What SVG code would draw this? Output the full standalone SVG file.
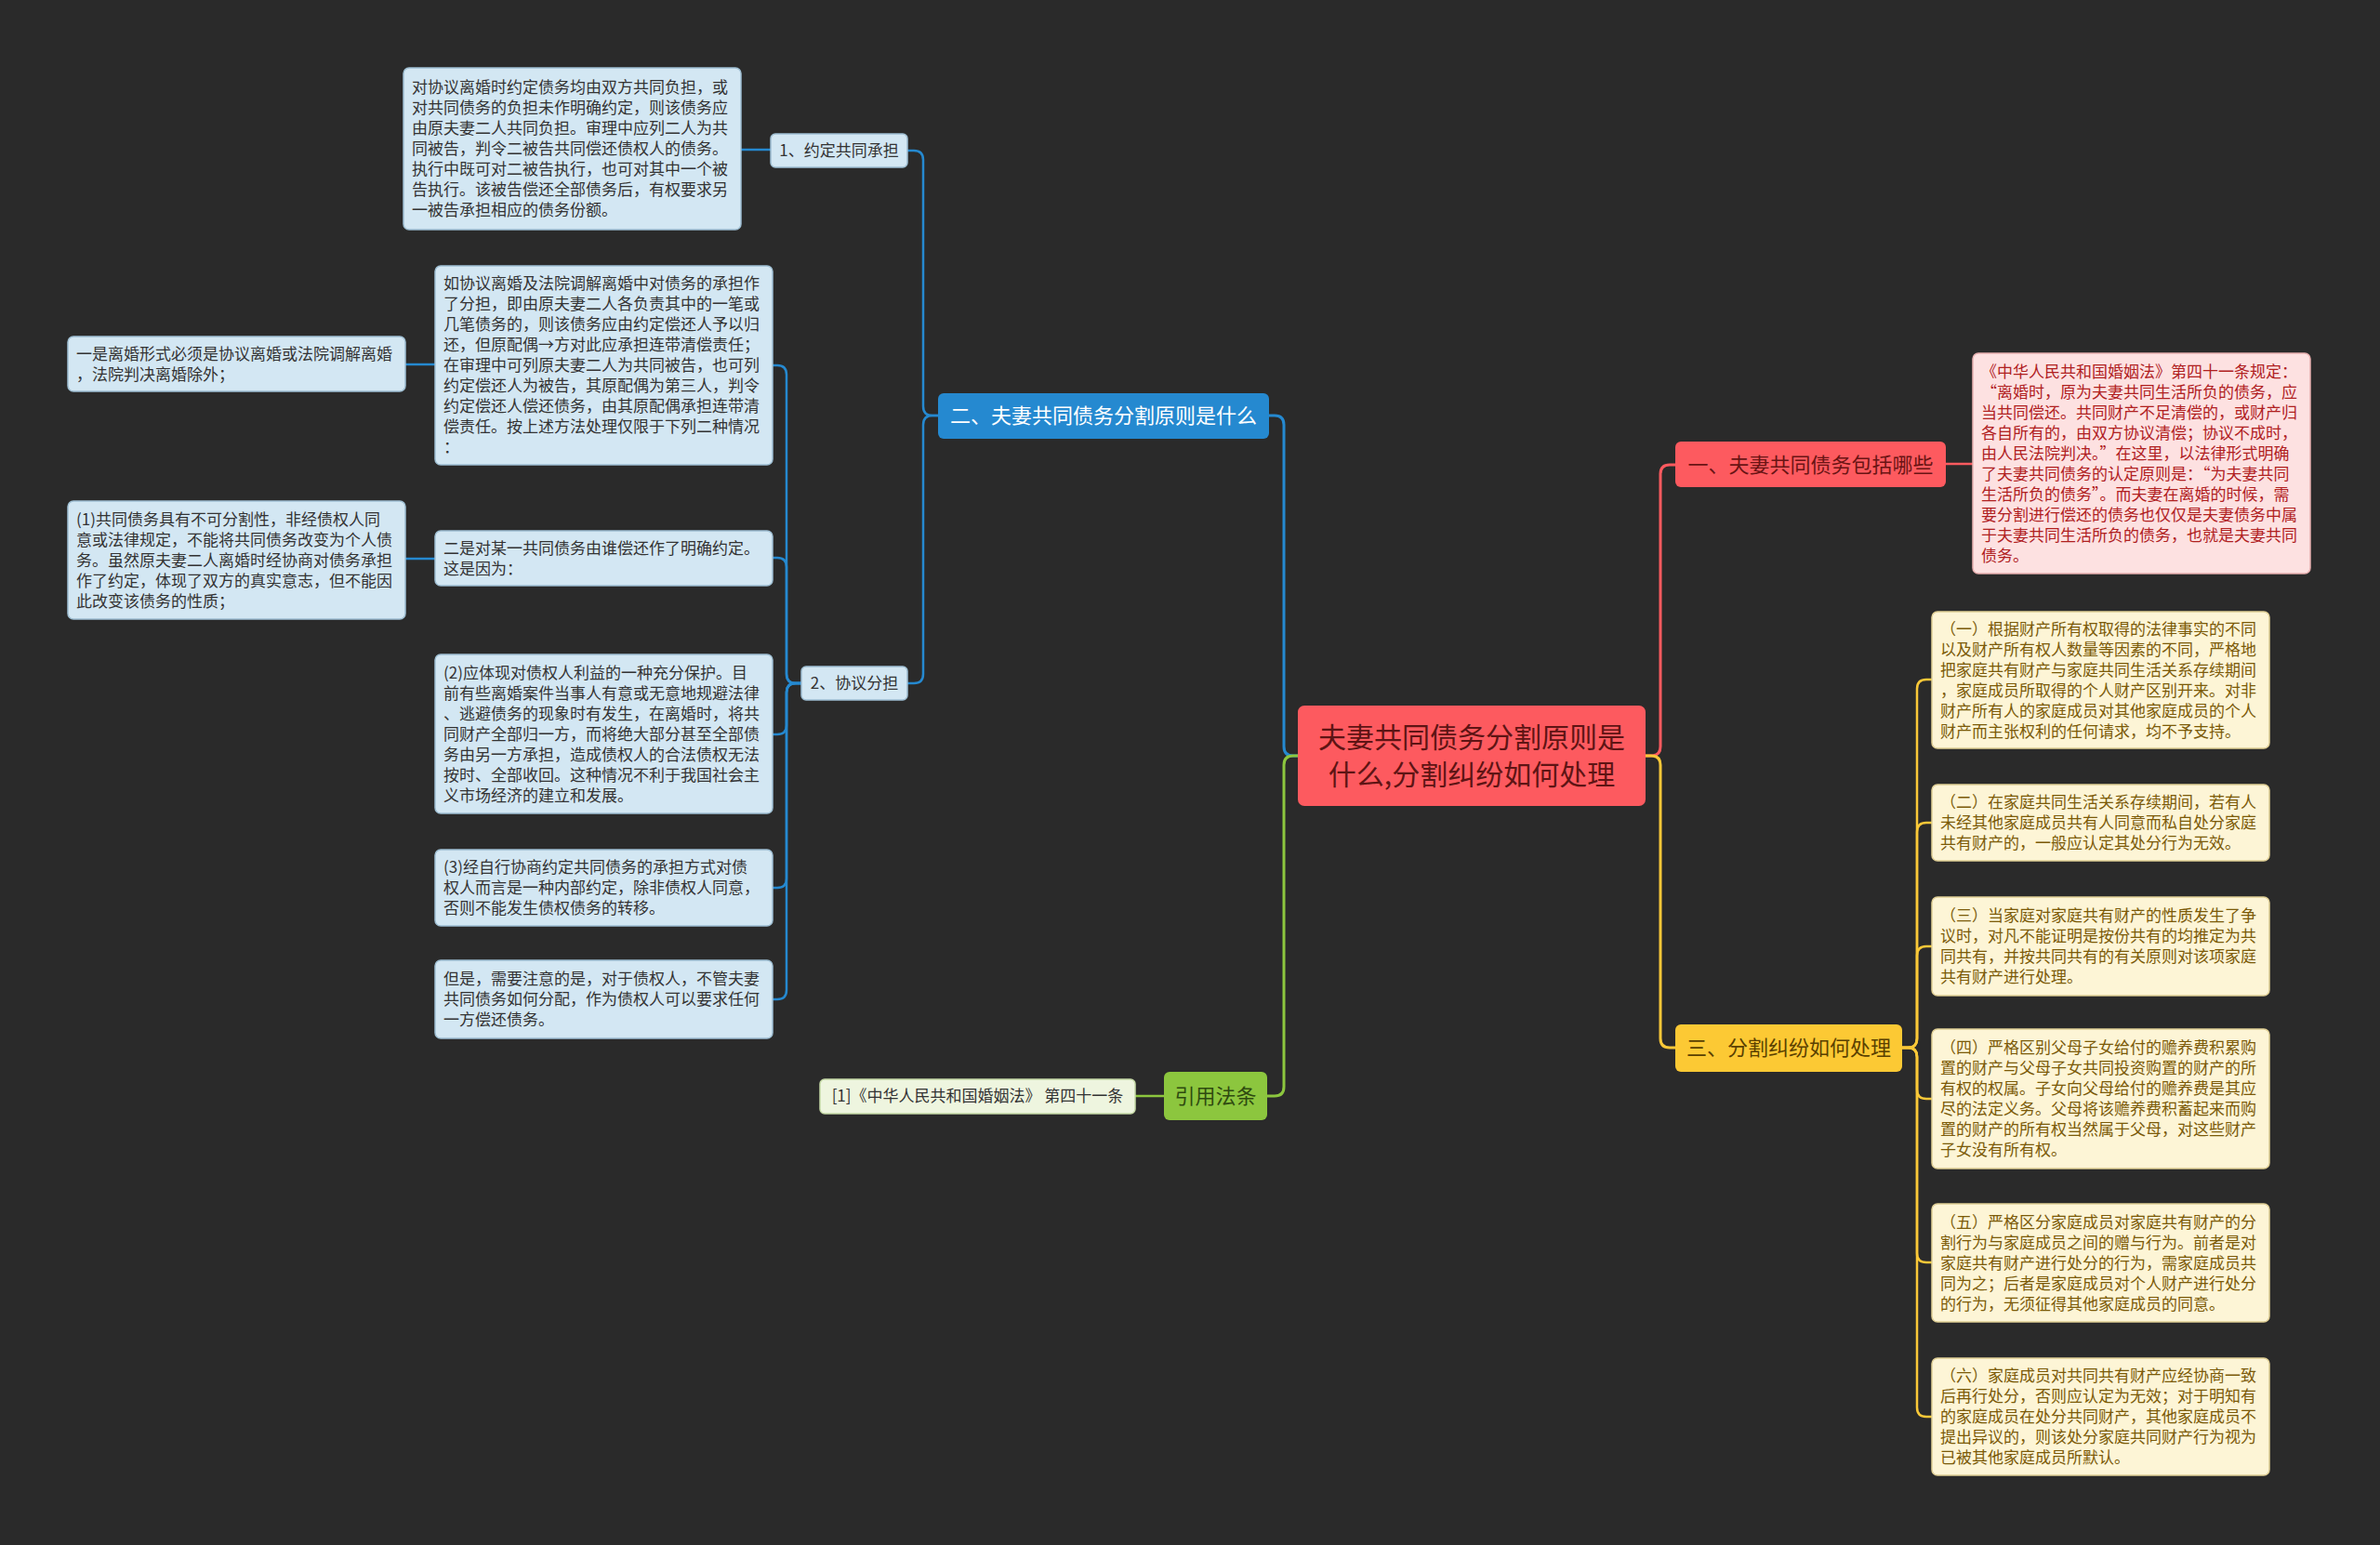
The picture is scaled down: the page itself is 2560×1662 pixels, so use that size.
<svg xmlns="http://www.w3.org/2000/svg" width="2560" height="1662" viewBox="0 0 2560 1662">
<style>
text{font-family:"Noto Sans CJK SC","Noto Sans",sans-serif}
.t{font-size:17px}
.lb rect{fill:#d3e7f3;stroke:#9fbfd3;stroke-width:1.5}
.lb text{fill:#333333}
.lr rect{fill:#fde1e1;stroke:#e8b0b0;stroke-width:1.5}
.lr text{fill:#b0201f}
.ly rect{fill:#fdf5d6;stroke:#e0cf95;stroke-width:1.5}
.ly text{fill:#7b5a08}
.lg rect{fill:#eef5df;stroke:#c5d9a6;stroke-width:1.5}
.lg text{fill:#333333}
.c{fill:none;stroke-linecap:round;stroke-linejoin:round}
.cb{stroke:#2589d0}
.cr{stroke:#fd5a5f}
.cy{stroke:#f9c838}
.cg{stroke:#8cc63e}
.w3{stroke-width:3}
.w2{stroke-width:2.5}
</style>
<rect width="2560" height="1662" fill="#2a2a2a"/>
<g id="connectors">
<path class="c cb w3" d="M1396,813 H1391 Q1381,813 1381,803 V457 Q1381,447 1371,447 H1365"/>
<path class="c cg w3" d="M1396,813 H1391 Q1381,813 1381,823 V1169 Q1381,1179 1371,1179 H1363"/>
<path class="c cr w3" d="M1770,813 H1776 Q1786,813 1786,803 V510 Q1786,500 1796,500 H1802"/>
<path class="c cy w3" d="M1770,813 H1776 Q1786,813 1786,823 V1117 Q1786,1127 1796,1127 H1802"/>
<path class="c cb w2" d="M1009,447 H1003 Q993,447 993,437 V172 Q993,162 983,162 H976"/>
<path class="c cb w2" d="M1009,447 H1003 Q993,447 993,457 V725 Q993,735 983,735 H976"/>
<path class="c cb w2" d="M829,161 H797"/>
<path class="c cb w2" d="M862,735 H856 Q846,735 846,725 V403 Q846,393 836,393 H831"/>
<path class="c cb w2" d="M862,735 H856 Q846,735 846,725 V610 Q846,600 836,600 H831"/>
<path class="c cb w2" d="M862,735 H856 Q846,735 846,745 V780 Q846,790 836,790 H831"/>
<path class="c cb w2" d="M862,735 H856 Q846,735 846,745 V945 Q846,955 836,955 H831"/>
<path class="c cb w2" d="M862,735 H856 Q846,735 846,745 V1065 Q846,1075 836,1075 H831"/>
<path class="c cb w2" d="M468,392 H436"/>
<path class="c cb w2" d="M468,601 H436"/>
<path class="c cr w2" d="M2093,499 H2122"/>
<path class="c cy w2" d="M2046,1127 H2052 Q2062,1127 2062,1117 V741 Q2062,731 2072,731 H2078"/>
<path class="c cy w2" d="M2046,1127 H2052 Q2062,1127 2062,1117 V895 Q2062,885 2072,885 H2078"/>
<path class="c cy w2" d="M2046,1127 H2052 Q2062,1127 2062,1117 V1028 Q2062,1018 2072,1018 H2078"/>
<path class="c cy w2" d="M2046,1127 H2052 Q2062,1127 2062,1137 V1172 Q2062,1182 2072,1182 H2078"/>
<path class="c cy w2" d="M2046,1127 H2052 Q2062,1127 2062,1137 V1348 Q2062,1358 2072,1358 H2078"/>
<path class="c cy w2" d="M2046,1127 H2052 Q2062,1127 2062,1137 V1514 Q2062,1524 2072,1524 H2078"/>
<path class="c cg w2" d="M1252,1179 H1221"/>
</g>
<g id="center">
<rect x="1396" y="759" width="374" height="108" rx="7" fill="#fd5a5f"/>
<text x="1583" y="804" font-size="30" text-anchor="middle" fill="#5e1414">夫妻共同债务分割原则是</text>
<text x="1583" y="844" font-size="30" text-anchor="middle" fill="#5e1414">什么,分割纠纷如何处理</text>
</g>
<g id="b2">
<rect x="1009" y="423" width="356" height="49" rx="6" fill="#2589d0"/>
<text x="1187" y="455" font-size="22" text-anchor="middle" fill="#ffffff">二、夫妻共同债务分割原则是什么</text>
</g>
<g id="b1">
<rect x="1802" y="475" width="291" height="49" rx="6" fill="#fd5a5f"/>
<text x="1947.5" y="508" font-size="22" text-anchor="middle" fill="#6a1414">一、夫妻共同债务包括哪些</text>
</g>
<g id="b3">
<rect x="1802" y="1102" width="244" height="51" rx="6" fill="#fcc934"/>
<text x="1924" y="1135" font-size="22" text-anchor="middle" fill="#5a4000">三、分割纠纷如何处理</text>
</g>
<g id="b4">
<rect x="1252" y="1153" width="111" height="52" rx="6" fill="#8cc63e"/>
<text x="1307.5" y="1187" font-size="22" text-anchor="middle" fill="#2f4a10">引用法条</text>
</g>
<g id="cite" class="lg">
<rect x="882" y="1161" width="339" height="37" rx="5"/>
<text x="1051.5" y="1185" class="t" text-anchor="middle">[1]《中华人民共和国婚姻法》 第四十一条</text>
</g>
<g id="s1" class="lb">
<rect x="829" y="144" width="147" height="36" rx="5"/>
<text x="902.5" y="168" class="t" text-anchor="middle">1、约定共同承担</text>
</g>
<g id="s2" class="lb">
<rect x="862" y="717" width="114" height="36" rx="5"/>
<text x="919" y="741" class="t" text-anchor="middle">2、协议分担</text>
</g>
<g id="boxA" class="lb">
<rect x="434" y="73" width="363" height="174" rx="6"/>
<text class="t" x="443" y="100">对协议离婚时约定债务均由双方共同负担，或</text>
<text class="t" x="443" y="122">对共同债务的负担未作明确约定，则该债务应</text>
<text class="t" x="443" y="144">由原夫妻二人共同负担。审理中应列二人为共</text>
<text class="t" x="443" y="166">同被告，判令二被告共同偿还债权人的债务。</text>
<text class="t" x="443" y="188">执行中既可对二被告执行，也可对其中一个被</text>
<text class="t" x="443" y="210">告执行。该被告偿还全部债务后，有权要求另</text>
<text class="t" x="443" y="232">一被告承担相应的债务份额。</text>
</g>
<g id="boxB" class="lb">
<rect x="468" y="286" width="363" height="214" rx="6"/>
<text class="t" x="477" y="311">如协议离婚及法院调解离婚中对债务的承担作</text>
<text class="t" x="477" y="333">了分担，即由原夫妻二人各负责其中的一笔或</text>
<text class="t" x="477" y="355">几笔债务的，则该债务应由约定偿还人予以归</text>
<text class="t" x="477" y="377">还，但原配偶→方对此应承担连带清偿责任；</text>
<text class="t" x="477" y="399">在审理中可列原夫妻二人为共同被告，也可列</text>
<text class="t" x="477" y="421">约定偿还人为被告，其原配偶为第三人，判令</text>
<text class="t" x="477" y="443">约定偿还人偿还债务，由其原配偶承担连带清</text>
<text class="t" x="477" y="465">偿责任。按上述方法处理仅限于下列二种情况</text>
<text class="t" x="477" y="487">：</text>
</g>
<g id="boxC" class="lb">
<rect x="73" y="362" width="363" height="59" rx="6"/>
<text class="t" x="82" y="386.5">一是离婚形式必须是协议离婚或法院调解离婚</text>
<text class="t" x="82" y="408.5">，法院判决离婚除外；</text>
</g>
<g id="boxD" class="lb">
<rect x="73" y="539" width="363" height="127" rx="6"/>
<text class="t" x="82" y="564.5">(1)共同债务具有不可分割性，非经债权人同</text>
<text class="t" x="82" y="586.5">意或法律规定，不能将共同债务改变为个人债</text>
<text class="t" x="82" y="608.5">务。虽然原夫妻二人离婚时经协商对债务承担</text>
<text class="t" x="82" y="630.5">作了约定，体现了双方的真实意志，但不能因</text>
<text class="t" x="82" y="652.5">此改变该债务的性质；</text>
</g>
<g id="boxE" class="lb">
<rect x="468" y="571" width="363" height="59" rx="6"/>
<text class="t" x="477" y="595.5">二是对某一共同债务由谁偿还作了明确约定。</text>
<text class="t" x="477" y="617.5">这是因为：</text>
</g>
<g id="boxF" class="lb">
<rect x="468" y="704" width="363" height="171" rx="6"/>
<text class="t" x="477" y="729.5">(2)应体现对债权人利益的一种充分保护。目</text>
<text class="t" x="477" y="751.5">前有些离婚案件当事人有意或无意地规避法律</text>
<text class="t" x="477" y="773.5">、逃避债务的现象时有发生，在离婚时，将共</text>
<text class="t" x="477" y="795.5">同财产全部归一方，而将绝大部分甚至全部债</text>
<text class="t" x="477" y="817.5">务由另一方承担，造成债权人的合法债权无法</text>
<text class="t" x="477" y="839.5">按时、全部收回。这种情况不利于我国社会主</text>
<text class="t" x="477" y="861.5">义市场经济的建立和发展。</text>
</g>
<g id="boxG" class="lb">
<rect x="468" y="914" width="363" height="82" rx="6"/>
<text class="t" x="477" y="939">(3)经自行协商约定共同债务的承担方式对债</text>
<text class="t" x="477" y="961">权人而言是一种内部约定，除非债权人同意，</text>
<text class="t" x="477" y="983">否则不能发生债权债务的转移。</text>
</g>
<g id="boxH" class="lb">
<rect x="468" y="1033" width="363" height="84" rx="6"/>
<text class="t" x="477" y="1059">但是，需要注意的是，对于债权人，不管夫妻</text>
<text class="t" x="477" y="1081">共同债务如何分配，作为债权人可以要求任何</text>
<text class="t" x="477" y="1103">一方偿还债务。</text>
</g>
<g id="boxR1" class="lr">
<rect x="2122" y="380" width="363" height="237" rx="6"/>
<text class="t" x="2131" y="405.5">《中华人民共和国婚姻法》第四十一条规定：</text>
<text class="t" x="2131" y="427.5">“离婚时，原为夫妻共同生活所负的债务，应</text>
<text class="t" x="2131" y="449.5">当共同偿还。共同财产不足清偿的，或财产归</text>
<text class="t" x="2131" y="471.5">各自所有的，由双方协议清偿；协议不成时，</text>
<text class="t" x="2131" y="493.5">由人民法院判决。”在这里，以法律形式明确</text>
<text class="t" x="2131" y="515.5">了夫妻共同债务的认定原则是：“为夫妻共同</text>
<text class="t" x="2131" y="537.5">生活所负的债务”。而夫妻在离婚的时候，需</text>
<text class="t" x="2131" y="559.5">要分割进行偿还的债务也仅仅是夫妻债务中属</text>
<text class="t" x="2131" y="581.5">于夫妻共同生活所负的债务，也就是夫妻共同</text>
<text class="t" x="2131" y="603.5">债务。</text>
</g>
<g id="boxY1" class="ly">
<rect x="2078" y="658" width="363" height="147" rx="6"/>
<text class="t" x="2087" y="682.5">（一）根据财产所有权取得的法律事实的不同</text>
<text class="t" x="2087" y="704.5">以及财产所有权人数量等因素的不同，严格地</text>
<text class="t" x="2087" y="726.5">把家庭共有财产与家庭共同生活关系存续期间</text>
<text class="t" x="2087" y="748.5">，家庭成员所取得的个人财产区别开来。对非</text>
<text class="t" x="2087" y="770.5">财产所有人的家庭成员对其他家庭成员的个人</text>
<text class="t" x="2087" y="792.5">财产而主张权利的任何请求，均不予支持。</text>
</g>
<g id="boxY2" class="ly">
<rect x="2078" y="844" width="363" height="82" rx="6"/>
<text class="t" x="2087" y="869">（二）在家庭共同生活关系存续期间，若有人</text>
<text class="t" x="2087" y="891">未经其他家庭成员共有人同意而私自处分家庭</text>
<text class="t" x="2087" y="913">共有财产的，一般应认定其处分行为无效。</text>
</g>
<g id="boxY3" class="ly">
<rect x="2078" y="965" width="363" height="106" rx="6"/>
<text class="t" x="2087" y="991">（三）当家庭对家庭共有财产的性质发生了争</text>
<text class="t" x="2087" y="1013">议时，对凡不能证明是按份共有的均推定为共</text>
<text class="t" x="2087" y="1035">同共有，并按共同共有的有关原则对该项家庭</text>
<text class="t" x="2087" y="1057">共有财产进行处理。</text>
</g>
<g id="boxY4" class="ly">
<rect x="2078" y="1107" width="363" height="150" rx="6"/>
<text class="t" x="2087" y="1133">（四）严格区别父母子女给付的赡养费积累购</text>
<text class="t" x="2087" y="1155">置的财产与父母子女共同投资购置的财产的所</text>
<text class="t" x="2087" y="1177">有权的权属。子女向父母给付的赡养费是其应</text>
<text class="t" x="2087" y="1199">尽的法定义务。父母将该赡养费积蓄起来而购</text>
<text class="t" x="2087" y="1221">置的财产的所有权当然属于父母，对这些财产</text>
<text class="t" x="2087" y="1243">子女没有所有权。</text>
</g>
<g id="boxY5" class="ly">
<rect x="2078" y="1295" width="363" height="127" rx="6"/>
<text class="t" x="2087" y="1320.5">（五）严格区分家庭成员对家庭共有财产的分</text>
<text class="t" x="2087" y="1342.5">割行为与家庭成员之间的赠与行为。前者是对</text>
<text class="t" x="2087" y="1364.5">家庭共有财产进行处分的行为，需家庭成员共</text>
<text class="t" x="2087" y="1386.5">同为之；后者是家庭成员对个人财产进行处分</text>
<text class="t" x="2087" y="1408.5">的行为，无须征得其他家庭成员的同意。</text>
</g>
<g id="boxY6" class="ly">
<rect x="2078" y="1461" width="363" height="126" rx="6"/>
<text class="t" x="2087" y="1486">（六）家庭成员对共同共有财产应经协商一致</text>
<text class="t" x="2087" y="1508">后再行处分，否则应认定为无效；对于明知有</text>
<text class="t" x="2087" y="1530">的家庭成员在处分共同财产，其他家庭成员不</text>
<text class="t" x="2087" y="1552">提出异议的，则该处分家庭共同财产行为视为</text>
<text class="t" x="2087" y="1574">已被其他家庭成员所默认。</text>
</g>
</svg>
